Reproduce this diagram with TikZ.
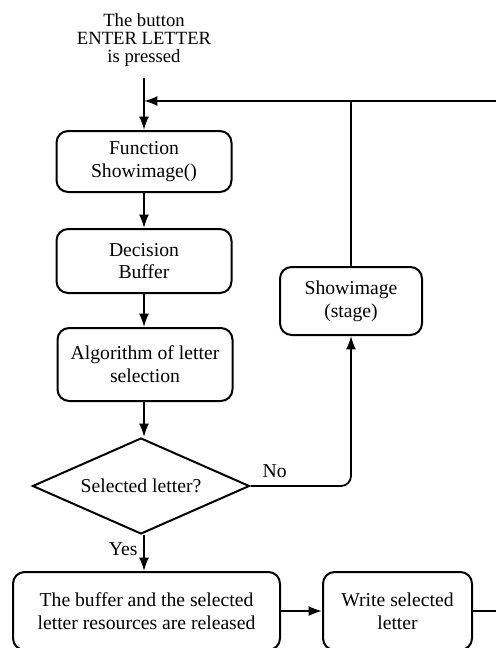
\documentclass[tikz,border=0pt]{standalone}
\usepackage{fontspec}
\setmainfont{Liberation Serif}
\usepackage{tikz}
\usetikzlibrary{positioning,arrows.meta,calc,shapes.geometric}

\begin{document}
\begin{tikzpicture}[
    x=0.6pt, y=-0.6pt,
    font=\fontsize{11.8}{13.6}\selectfont,
    procbox/.style={draw, line width=1.2pt, rounded corners=7pt,
                    align=center, inner sep=2pt},
    decbox/.style={draw, diamond, line width=1.2pt, align=center,
                   inner sep=0pt, aspect=2.26},
    flow/.style={-{Latex[length=8pt,width=6pt]}, line width=1.1pt},
    plain/.style={line width=1.1pt},
]
\useasboundingbox (0,0) rectangle (496,648);

% ---- Start ----
\node[align=center, inner sep=2pt, font=\fontsize{11.2}{10.8}\selectfont] (start) at (144,40) {The button\\ENTER LETTER\\is pressed};
\coordinate (join) at (144,101);

% ---- Main column ----
\node[procbox, minimum width=105pt, minimum height=36.6pt] (f1) at (144,161.5) {Function\\Showimage()};
\node[procbox, minimum width=105pt, minimum height=38.4pt] (f2) at (144,261) {Decision\\Buffer};
\node[procbox, minimum width=105pt, minimum height=43.8pt] (f3) at (145,364.5) {Algorithm of letter\\selection};
\node[decbox, minimum width=130.2pt, minimum height=57.6pt] (dec) at (141,486) {Selected letter?};

% ---- Side branch ----
\node[procbox, minimum width=85.2pt, minimum height=40.8pt] (show) at (351,301) {Showimage\\(stage)};

% ---- Bottom row ----
\node[procbox, minimum width=160.2pt, minimum height=46.8pt] (rel) at (146.5,611) {The buffer and the selected\\letter resources are released};
\node[procbox, minimum width=89.4pt, minimum height=46.8pt] (write) at (397.5,611) {Write selected\\letter};
\coordinate (loopR) at (515,611);
\coordinate (loopT) at (515,101);

% ---- Connectors ----
\draw[flow, shorten <=5pt] (start.south) -- (f1.north);
\draw[flow] (f1.south) -- (f2.north);
\draw[flow] (f2.south) -- (f3.north -| f2.south);
\draw[flow] (f3.south -| f2.south) -- (dec.north -| f2.south);
\draw[flow] (dec.south -| f2.south) -- node[left, pos=0.4] {Yes} (rel.north -| f2.south);
\draw[flow, rounded corners=6pt] (dec.east) -| node[pos=0.12, above=1pt] {No} (show.south);
\draw[flow] (rel.east) -- (write.west);
\draw[plain] (show.north) -- (show.north |- join);
\draw[flow] (write.east) -- (loopR) -- (loopT) -- (join);

\end{tikzpicture}
\end{document}
